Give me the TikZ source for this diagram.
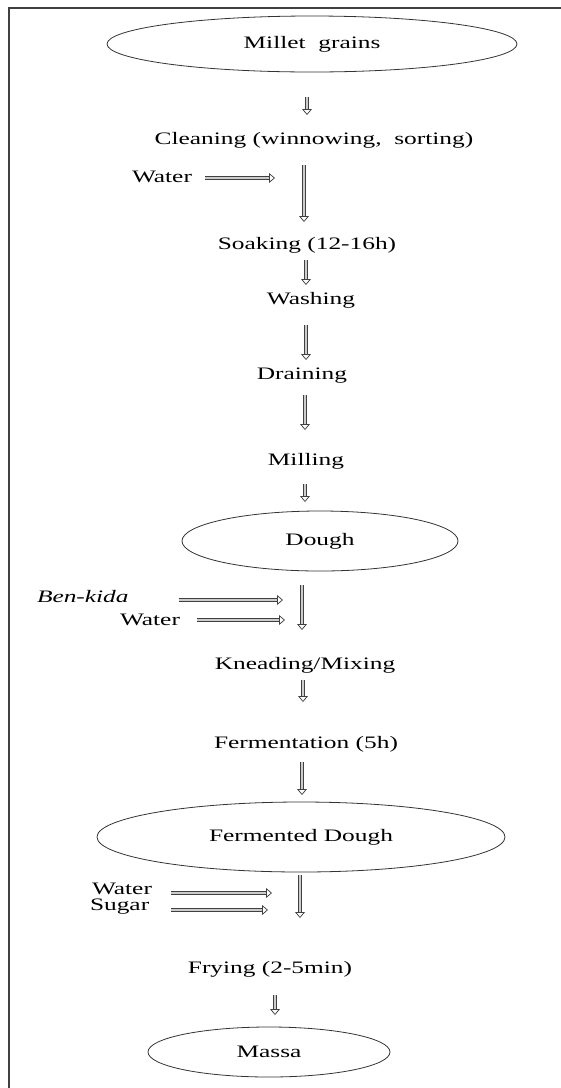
\documentclass[tikz,border=0pt]{standalone}
\usepackage{fontspec}
\setmainfont{Liberation Serif}[FakeStretch=1.45]
\usetikzlibrary{shapes.geometric,arrows.meta}
\begin{document}
\begin{tikzpicture}[x=1pt,y=-1pt,
  lbl/.style={font=\fontsize{17.5}{20}\selectfont, inner sep=0pt, outer sep=0pt, text height=11pt, text depth=0pt},
  oval/.style={ellipse, draw=black!80, line width=0.8pt, inner sep=0pt, outer sep=0pt, font=\fontsize{17.5}{20}\selectfont},
  flow/.style={draw=black!75, line width=0.75pt, double=gray!40, double distance=2.6pt, -{Triangle[open,length=6pt,width=10pt]}},
  frame/.style={draw=black!75, line width=1.5pt}]
\useasboundingbox (0,0) rectangle (561,1088);
\draw[frame] (9,1088) -- (9,8) -- (561,8);

% nodes
\node[oval, minimum width=410pt, minimum height=56pt] (millet) at (312,44) {Millet\ \ grains};
\node[lbl] (clean) at (314,139) {Cleaning (winnowing,\ \ sorting)};
\node[lbl, anchor=west] (water1) at (132,177) {Water};
\node[lbl] (soak) at (307,244) {Soaking (12-16h)};
\node[lbl] (wash) at (311,299) {Washing};
\node[lbl] (drain) at (302,374) {Draining};
\node[lbl] (mill) at (306,460) {Milling};
\node[oval, minimum width=276pt, minimum height=60pt] (dough) at (320,541) {Dough};
\node[lbl, anchor=west, font=\fontsize{17.5}{20}\selectfont\itshape] (benkida) at (37,597) {Ben-kida};
\node[lbl, anchor=west] (water2) at (120,620) {Water};
\node[lbl] (knead) at (305,664) {Kneading/Mixing};
\node[lbl] (ferm) at (306,743) {Fermentation (5h)};
\node[oval, minimum width=408pt, minimum height=70pt] (fdough) at (301,837) {Fermented Dough};
\node[lbl, anchor=west] (water3) at (92,889) {Water};
\node[lbl, anchor=west] (sugar) at (90,905) {Sugar};
\node[lbl] (fry) at (270,968) {Frying (2-5min)};
\node[oval, minimum width=242pt, minimum height=50pt] (massa) at (269,1052) {Massa};

% free ends of side inputs
\coordinate (w1end) at (275,178);
\coordinate (bkend) at (283,600);
\coordinate (w2end) at (285,620);
\coordinate (w3end) at (272,893);
\coordinate (sgend) at (268,910);

% vertical flow arrows
\draw[flow, shorten <=25pt, shorten >=18.5pt] ([xshift=-5pt]millet.south) -- ([xshift=-7pt]clean.north);
\draw[flow, shorten <=20.5pt, shorten >=16.5pt] ([xshift=-10pt]clean.south) -- ([xshift=-3pt]soak.north);
\draw[flow, shorten <=10.5pt, shorten >=8.5pt] ([xshift=-1pt]soak.south) -- ([xshift=-5pt]wash.north);
\draw[flow, shorten <=20.5pt, shorten >=8.5pt] ([xshift=-5pt]wash.south) -- ([xshift=4pt]drain.north);
\draw[flow, shorten <=15.5pt, shorten >=24.5pt] ([xshift=3pt]drain.south) -- ([xshift=-1pt]mill.north);
\draw[flow, shorten <=18.5pt, shorten >=9pt] ([xshift=-1pt]mill.south) -- ([xshift=-15pt]dough.north);
\draw[flow, shorten <=14pt, shorten >=28.5pt] ([xshift=-18pt]dough.south) -- ([xshift=-3pt]knead.north);
\draw[flow, shorten <=10.5pt, shorten >=35.5pt] ([xshift=-2pt]knead.south) -- ([xshift=-3pt]ferm.north);
\draw[flow, shorten <=13.5pt, shorten >=7pt] ([xshift=-4pt]ferm.south) -- ([xshift=1pt]fdough.north);
\draw[flow, shorten <=3pt, shorten >=44.5pt] ([xshift=-1pt]fdough.south) -- ([xshift=30pt]fry.north);
\draw[flow, shorten <=21.5pt, shorten >=12pt] ([xshift=5pt]fry.south) -- ([xshift=6pt]massa.north);

% side input arrows
\draw[flow, shorten <=13pt] (water1.east |- w1end) -- (w1end);
\draw[flow, shorten <=50pt] (benkida.east |- bkend) -- (bkend);
\draw[flow, shorten <=17pt] (water2.east |- w2end) -- (w2end);
\draw[flow, shorten <=19pt] (water3.east |- w3end) -- (w3end);
\draw[flow, shorten <=22pt] (sugar.east |- sgend) -- (sgend);
\end{tikzpicture}
\end{document}
